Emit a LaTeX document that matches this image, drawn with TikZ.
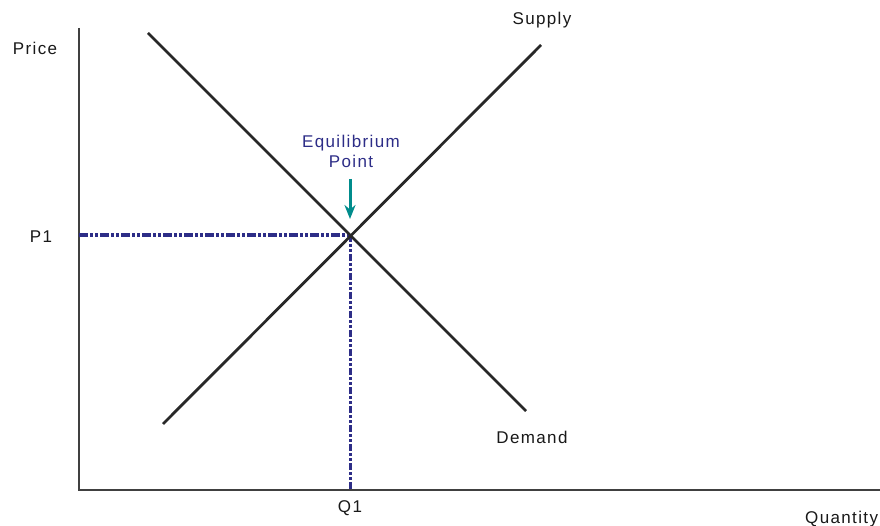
\documentclass[tikz,border=0pt]{standalone}
\usepackage{fontspec}
\setmainfont{Liberation Sans}[LetterSpace=8]
\usetikzlibrary{arrows.meta}
\definecolor{curve}{RGB}{40,40,40}
\definecolor{eqblue}{RGB}{45,45,135}
\definecolor{teal2}{RGB}{0,140,140}
\tikzset{
  lbl/.style={font=\fontsize{17pt}{19pt}\selectfont, text=black!90, inner sep=0pt},
  eqlbl/.style={font=\fontsize{17pt}{19pt}\selectfont, text=eqblue, inner sep=0pt, align=center},
  curveline/.style={draw=curve, line width=2.8pt},
  axisline/.style={draw=black!75, line width=1.8pt},
  hguide/.style={draw=eqblue, line width=4pt, dash pattern=on 9pt off 2pt on 3pt off 2pt on 3pt off 2pt},
  vguide/.style={draw=eqblue, line width=3pt, dash pattern=on 7pt off 2pt on 3pt off 2pt on 3pt off 2pt}
}
\begin{document}
\begin{tikzpicture}[x=1pt,y=-1pt]
\useasboundingbox[fill=white] (0,0) rectangle (880,526);
% axes
\coordinate (ytop) at (79,28);
\coordinate (O) at (79,490);
\coordinate (xend) at (880,490);
\draw[axisline] (ytop) -- (O) -- (xend);
% curves
\coordinate (d1) at (148,33);
\coordinate (d2) at (526,411);
\coordinate (s1) at (163,424);
\coordinate (s2) at (541,45);
\coordinate (E) at (350,235);
\coordinate (P1c) at (79,235);
\coordinate (Q1c) at (350,490);
\draw[hguide] (P1c) -- (E);
\draw[vguide] (E) -- (Q1c);
\draw[curveline] (d1) -- (d2);
\draw[curveline] (s1) -- (s2);
% labels
\node[lbl] (price) at (35,48) {Price};
\node[lbl] (p1) at (41,237) {P1};
\node[lbl] (supply) at (542,20) {Supply};
\node[lbl] (demand) at (532,437) {Demand};
\node[lbl] (q1) at (350,508) {Q1};
\node[lbl, anchor=west] (qty) at (805,519) {Quantity};
\node[eqlbl] (eq) at (351,151) {Equilibrium\\[1pt]Point};
\coordinate (arrs) at (350,179);
\coordinate (arre) at (350,219);
\draw[draw=teal2, line width=3pt, -{Stealth[length=14pt,width=11pt]}] (arrs) -- (arre);
\end{tikzpicture}
\end{document}
